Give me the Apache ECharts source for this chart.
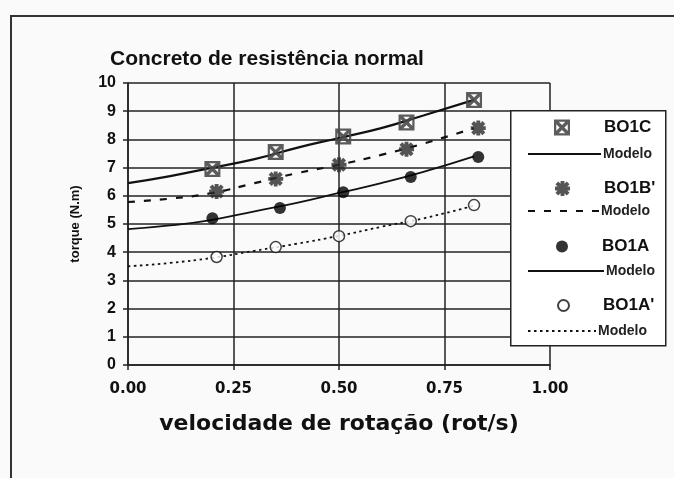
<!DOCTYPE html>
<html>
<head>
<meta charset="utf-8">
<script src="https://cdn.jsdelivr.net/npm/echarts@6/dist/echarts.min.js"></script>
<style>
html,body{margin:0;padding:0;background:#fafafa;}
#frame{position:absolute;left:10px;top:15px;width:664px;height:463px;border-left:2px solid #333;border-top:2px solid #333;box-sizing:border-box;}
#c{position:absolute;left:0;top:0;width:674px;height:478px;}
</style>
</head>
<body>
<div id="frame"></div>
<div id="c"></div>
<script>
// ---- data ----
const xTicks = [0, 0.25, 0.5, 0.75, 1.0];
const yTicks = [0,1,2,3,4,5,6,7,8,9,10];

const bo1cX = [0.20, 0.35, 0.51, 0.66, 0.82];
const bo1cY = [6.95, 7.55, 8.10, 8.60, 9.40];
const bo1bX = [0.21, 0.35, 0.50, 0.66, 0.83];
const bo1bY = [6.15, 6.60, 7.10, 7.65, 8.40];
const bo1aX = [0.20, 0.36, 0.51, 0.67, 0.83];
const bo1aY = [5.20, 5.57, 6.13, 6.67, 7.38];
const bo1apX = [0.21, 0.35, 0.50, 0.67, 0.82];
const bo1apY = [3.83, 4.18, 4.57, 5.10, 5.67];

const modelX = [0, 0.1, 0.2, 0.3, 0.4, 0.5, 0.6, 0.7, 0.82];
const modelC = [6.45, 6.70, 7.00, 7.30, 7.70, 8.05, 8.40, 8.85, 9.40];
const modelB = [5.78, 5.90, 6.10, 6.45, 6.80, 7.10, 7.45, 7.85, 8.40];
const modelA = [4.82, 4.95, 5.15, 5.45, 5.75, 6.10, 6.45, 6.85, 7.40];
const modelAp = [3.50, 3.62, 3.80, 4.05, 4.30, 4.58, 4.90, 5.20, 5.65];

function pairs(xs, ys){ return xs.map((x,i)=>[x, ys[i]]); }

const symBox = 'path://M0,0L10,0L10,10L0,10Z M1.4,1.4L1.4,8.6L8.6,8.6L8.6,1.4Z M0.5,2L2,0.5L5,3.5L8,0.5L9.5,2L6.5,5L9.5,8L8,9.5L5,6.5L2,9.5L0.5,8L3.5,5Z';
const symStar = 'path://M0.3,2.2L2.2,0.3L5,3.1L7.8,0.3L9.7,2.2L6.9,5L9.7,7.8L7.8,9.7L5,6.9L2.2,9.7L0.3,7.8L3.1,5Z M3.7,0L6.3,0L6.3,3.7L10,3.7L10,6.3L6.3,6.3L6.3,10L3.7,10L3.7,6.3L0,6.3L0,3.7L3.7,3.7Z';

const FONT = 'Liberation Sans';
const chart = echarts.init(document.getElementById('c'), null, {renderer:'canvas'});

const markerText = {fontFamily: FONT, fontWeight:'bold', fontSize:17, color:'#111', padding:[0,0,0,29], lineHeight:16};
const modelText = {fontFamily: FONT, fontWeight:'bold', fontSize:14, color:'#222', padding:[0,0,0,-3], lineHeight:12};

function mLegend(name, left, top, size){
  return {show:true, data:[name], left:left, top:top, padding:0, itemWidth:size, itemHeight:size,
    selectedMode:false, textStyle:markerText, formatter: n=>n};
}
function lLegend(name, left, top, w){
  return {show:true, data:[name], left:left, top:top, padding:0, itemWidth:w, itemHeight:12,
    selectedMode:false, textStyle:modelText, formatter: ()=>'Modelo',
    itemStyle:{opacity:0, borderWidth:0}};
}

const option = {
  animation:false,
  backgroundColor:'transparent',
  title:{text:'Concreto de resistência normal', left:110, top:49, padding:0,
    textStyle:{fontFamily:FONT, fontWeight:'bold', fontSize:21, color:'#111'}},
  graphic:[{type:'rect', left:510, top:110, shape:{width:155, height:235},
    style:{fill:'#fff', stroke:'#222', lineWidth:1.5}, z:50}],
  legend:[
    mLegend('BO1C', 554, 119, 16),
    lLegend('BO1C Modelo', 527, 147, 73),
    mLegend("BO1B'", 555, 180, 15),
    lLegend("BO1B' Modelo", 527, 204, 71),
    mLegend('BO1A', 556, 238, 12),
    lLegend('BO1A Modelo', 527, 264, 76),
    mLegend("BO1A'", 557, 297, 11),
    lLegend("BO1A' Modelo", 527, 324, 68)
  ].map(l=>Object.assign(l,{z:60})),
  grid:{left:128, right:124, top:83, bottom:113, containLabel:false},
  xAxis:{type:'value', min:xTicks[0], max:xTicks[xTicks.length-1], interval:0.25,
    name:'velocidade de rotação (rot/s)', nameLocation:'middle', nameGap:48,
    nameTextStyle:{fontFamily:'DejaVu Sans', fontWeight:'bold', fontSize:22, color:'#111'},
    axisLine:{show:true, lineStyle:{color:'#222', width:1.5}},
    axisTick:{show:true, length:5, lineStyle:{color:'#222', width:1.5}},
    axisLabel:{fontFamily:'DejaVu Sans', fontWeight:'bold', fontSize:15, color:'#111', margin:17,
      formatter: v=>v.toFixed(2)},
    splitLine:{show:true, lineStyle:{color:'#222', width:1.5}}},
  yAxis:{type:'value', min:yTicks[0], max:yTicks[yTicks.length-1], interval:1,
    name:'torque (N.m)', nameLocation:'middle', nameGap:46, nameRotate:90,
    nameTextStyle:{fontFamily:FONT, fontWeight:'bold', fontSize:13, color:'#111'},
    axisLine:{show:true, lineStyle:{color:'#222', width:1.5}},
    axisTick:{show:true, length:5, lineStyle:{color:'#222', width:1.5}},
    axisLabel:{fontFamily:FONT, fontWeight:'bold', fontSize:16, color:'#111', margin:12},
    splitLine:{show:true, lineStyle:{color:'#222', width:1.5}}},
  series:[
    {name:'BO1C Modelo', type:'line', smooth:true, symbol:'none', data:pairs(modelX, modelC),
      lineStyle:{color:'#111', width:2.2, type:'solid'}, itemStyle:{color:'#111'}, z:3},
    {name:"BO1B' Modelo", type:'line', smooth:true, symbol:'none', data:pairs(modelX, modelB),
      lineStyle:{color:'#111', width:2.2, type:[7,9]}, itemStyle:{color:'#111'}, z:3},
    {name:'BO1A Modelo', type:'line', smooth:true, symbol:'none', data:pairs(modelX, modelA),
      lineStyle:{color:'#111', width:1.8, type:'solid'}, itemStyle:{color:'#111'}, z:3},
    {name:"BO1A' Modelo", type:'line', smooth:true, symbol:'none', data:pairs(modelX, modelAp),
      lineStyle:{color:'#111', width:1.8, type:[2.5,3.5]}, itemStyle:{color:'#111'}, z:3},
    {name:'BO1C', type:'scatter', symbol:symBox, symbolSize:16, data:pairs(bo1cX, bo1cY),
      itemStyle:{color:'#4a4a4a', opacity:0.9}, z:5},
    {name:"BO1B'", type:'scatter', symbol:symStar, symbolSize:15, data:pairs(bo1bX, bo1bY),
      itemStyle:{color:'#2a2a2a'}, z:5},
    {name:'BO1A', type:'scatter', symbol:'circle', symbolSize:12, data:pairs(bo1aX, bo1aY),
      itemStyle:{color:'#000'}, z:5},
    {name:"BO1A'", type:'scatter', symbol:'circle', symbolSize:11, data:pairs(bo1apX, bo1apY),
      itemStyle:{color:'#fff', borderColor:'#111', borderWidth:1.5}, z:5}
  ]
};
chart.setOption(option);
</script>
</body>
</html>
